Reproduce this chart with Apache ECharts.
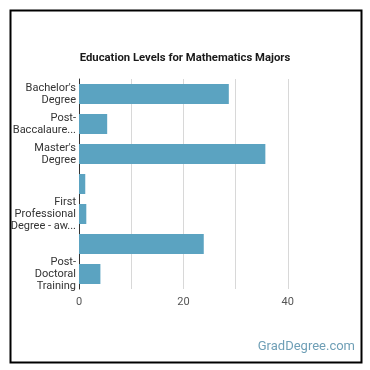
<!DOCTYPE html>
<html>
<head>
<meta charset="utf-8">
<script src="https://cdn.jsdelivr.net/npm/echarts@6/dist/echarts.min.js"></script>
<style>
  html, body { margin: 0; padding: 0; background: #fff; }
  #chart { width: 370px; height: 370px; }
</style>
</head>
<body>
<div id="chart"></div>
<script>
// categories (some labels are hidden in the original)
const categories = [
  "Bachelor's\nDegree",
  'Post-\nBaccalaure...',
  "Master's\nDegree",
  '',
  'First\nProfessional\nDegree - aw...',
  '',
  'Post-\nDoctoral\nTraining'
]
const values = [28.7, 5.4, 35.7, 1.2, 1.4, 23.9, 4.1]
const tickLabels = ['0', '20', '40']

const chart = echarts.init(document.getElementById('chart'))

const option = {
  animation: false,
  title: {
    text: 'Education Levels for Mathematics Majors',
    left: 'center',
    top: 48,
    textStyle: {
      fontFamily: 'Roboto',
      fontSize: 11.3,
      fontWeight: 'bold',
      color: '#1a1a1a'
    }
  },
  grid: {
    left: 79,
    right: 30,
    top: 79,
    bottom: 81,
    containLabel: false
  },
  xAxis: {
    type: 'value',
    min: 0,
    max: 50,
    interval: 10,
    axisLine: { show: false },
    axisTick: { show: false },
    splitLine: { showMaxLine: false, lineStyle: { color: '#d8d8d8', width: 1 } },
    axisLabel: {
      fontFamily: 'Roboto',
      fontSize: 11,
      color: '#555',
      margin: 8,
      formatter: v => tickLabels.includes(String(v)) ? String(v) : ''
    }
  },
  yAxis: {
    type: 'category',
    inverse: true,
    data: categories,
    axisLine: { show: true, lineStyle: { color: '#333', width: 1 } },
    axisTick: { show: false },
    axisLabel: {
      fontFamily: 'Roboto',
      fontSize: 11,
      color: '#333',
      lineHeight: 12,
      margin: 3,
      interval: 0
    }
  },
  series: [{
    type: 'bar',
    data: values,
    barWidth: 20,
    itemStyle: { color: '#5ba3c1' }
  }],
  graphic: [
    {
      type: 'rect',
      left: 8,
      top: 8,
      shape: { width: 351, height: 352 },
      style: { fill: 'none', stroke: '#000', lineWidth: 2 }
    },
    {
      type: 'text',
      right: 15,
      top: 340,
      style: {
        text: 'GradDegree.com',
        font: '13px Roboto',
        fill: '#6f9fb6'
      }
    }
  ]
}

chart.setOption(option)
</script>
</body>
</html>
